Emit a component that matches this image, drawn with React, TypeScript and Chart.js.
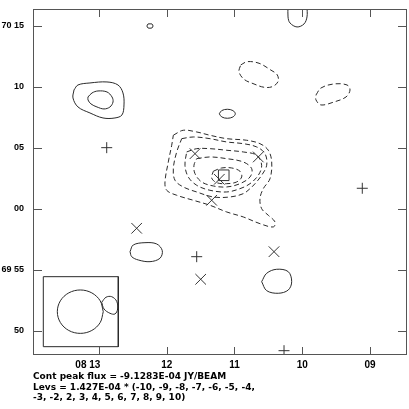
import React, { useEffect, useRef } from "react";
import { Chart, registerables } from "chart.js";

Chart.register(...registerables);

// Axis ticks (RA minutes of 08h, Dec arcmin relative to +70 00)
const raTicks = [13, 12, 11, 10, 9];
const raTickLabels = ["08 13\u2007\u2007\u2007\u2007", "12", "11", "10", "09"];
const decTicks = [15, 10, 5, 0, -5, -10];
const decTickLabels = ["70 15", "10", "05", "00", "69 55", "50"];
const raRange = [8.454, 13.974];
const decRange = [-11.97, 16.39];

// Positive (solid) contours
const posNW1 = [[13.369,9.754],[13.310,10.164],[13.133,10.328],[12.882,10.410],[12.720,10.164],[12.646,9.508],[12.631,8.525],[12.661,7.705],[12.764,7.459],[12.941,7.459],[13.133,7.869],[13.310,8.361],[13.384,9.098]];
const posNW2 = [[13.162,9.180],[13.103,9.508],[13.015,9.672],[12.882,9.590],[12.808,9.180],[12.793,8.770],[12.838,8.361],[12.926,8.197],[13.030,8.361],[13.118,8.607],[13.162,8.934]];
const posTiny = [[12.277,15.164],[12.218,15.164],[12.203,15.0],[12.218,14.836],[12.277,14.836],[12.292,15.0]];
const posTop = [[10.210,16.6],[10.210,15.738],[10.181,15.246],[10.077,14.918],[9.974,15.164],[9.930,15.738],[9.930,16.6]];
const posMid = [[11.224,7.803],[11.189,8.064],[11.106,8.172],[11.023,8.064],[10.988,7.803],[11.023,7.542],[11.106,7.434],[11.189,7.542]];
const posSW = [[12.542,-3.501],[12.494,-2.951],[12.321,-2.763],[12.148,-2.869],[12.066,-3.419],[12.100,-4.042],[12.247,-4.320],[12.420,-4.181],[12.517,-3.911]];
const posSE = [[10.599,-5.960],[10.525,-5.271],[10.377,-4.943],[10.206,-5.140],[10.156,-5.960],[10.206,-6.640],[10.354,-6.911],[10.525,-6.697]];

// Negative (dashed) contours
const negN = [[10.908,11.803],[10.811,12.074],[10.638,11.943],[10.466,11.393],[10.368,10.984],[10.358,10.434],[10.442,10.024],[10.565,9.975],[10.712,10.246],[10.860,10.631],[10.934,11.254]];
const negE = [[9.797,9.344],[9.723,9.918],[9.531,10.246],[9.339,10.164],[9.295,9.754],[9.354,9.180],[9.531,8.770],[9.723,8.525],[9.797,8.934]];
const negC1 = [[11.903,6.041],[11.756,6.451],[11.558,6.311],[11.362,6.041],[11.115,5.762],[10.820,5.631],[10.624,5.352],[10.501,4.811],[10.451,3.852],[10.476,2.483],[10.575,1.664],[10.624,0.844],[10.599,0.024],[10.501,-0.517],[10.402,-1.066],[10.427,-1.476],[10.624,-1.205],[10.870,-0.656],[11.115,-0.246],[11.362,0.303],[11.608,0.713],[11.853,1.123],[12.001,1.532],[12.026,2.213],[11.977,3.852],[11.927,5.221]];
const negC2 = [[11.779,5.762],[11.608,5.901],[11.362,5.762],[11.115,5.491],[10.870,5.352],[10.672,5.082],[10.550,4.532],[10.525,3.582],[10.599,2.762],[10.697,2.073],[10.771,1.664],[10.870,1.254],[11.066,0.983],[11.313,0.983],[11.558,1.393],[11.756,1.803],[11.878,2.352],[11.903,3.303],[11.853,4.672]];
const negC3 = [[11.706,4.672],[11.558,4.942],[11.362,4.942],[11.115,4.811],[10.870,4.672],[10.672,4.401],[10.599,3.582],[10.649,2.762],[10.771,2.073],[10.919,1.664],[11.115,1.393],[11.362,1.532],[11.558,1.942],[11.682,2.623],[11.731,3.582]];
const negC4 = [[11.558,4.123],[11.362,4.262],[11.115,4.123],[10.870,3.852],[10.746,3.303],[10.771,2.623],[10.919,2.073],[11.115,1.803],[11.313,1.885],[11.484,2.213],[11.583,2.893],[11.598,3.582]];
const negC5 = [[11.313,3.090],[11.189,3.360],[11.041,3.360],[10.919,3.090],[10.894,2.623],[10.968,2.213],[11.115,2.073],[11.263,2.155],[11.337,2.541]];

// Beam inset
const beamBox = [[13.822,-5.550],[12.715,-5.550],[12.715,-11.288],[13.822,-11.288]];
const beamMain = [[12.937,-8.419],[12.982,-7.529],[13.106,-6.878],[13.276,-6.640],[13.446,-6.878],[13.570,-7.529],[13.615,-8.419],[13.570,-9.308],[13.446,-9.960],[13.276,-10.197],[13.106,-9.960],[12.982,-9.308]];
const beamSmall = [[12.960,-7.648],[12.897,-7.238],[12.813,-7.189],[12.739,-7.566],[12.725,-8.198],[12.764,-8.607],[12.838,-8.550],[12.926,-8.198]];

// Markers
const plusMarkers = [[12.886,5.024],[9.114,1.696],[11.558,-3.911],[10.269,-11.616]];
const xMarkers = [[11.583,4.532],[10.649,4.262],[11.224,2.434],[11.337,0.713],[12.444,-1.583],[11.499,-5.763],[10.417,-3.501]];
const boxMarkers = [[11.159,2.762]];

const footerLines = [
  "Cont peak flux = -9.1283E-04 JY/BEAM",
  "Levs = 1.427E-04 * (-10, -9, -8, -7, -6, -5, -4,",
  "-3, -2, 2, 3, 4, 5, 6, 7, 8, 9, 10)",
];

const LINE = "#2a2a2a";
const AXIS = "#555";

const pts = (a: number[][]) => a.map(([x, y]) => ({ x, y }));
const closed = (a: number[][]) => a.concat([a[0]]);

function contour(a: number[][], dashed: boolean, isClosed = true, tension = 0.35) {
  return {
    type: "line" as const,
    data: pts(isClosed ? closed(a) : a),
    borderColor: LINE,
    borderWidth: 1,
    borderDash: dashed ? [5, 3] : [],
    pointRadius: 0,
    pointHoverRadius: 0,
    tension,
    fill: false,
  };
}

function markers(a: number[][], style: string, r: number) {
  return {
    type: "scatter" as const,
    data: pts(a),
    pointStyle: style,
    pointRadius: r,
    pointHoverRadius: r,
    borderColor: "#333",
    backgroundColor: "rgba(0,0,0,0)",
    borderWidth: 1,
    showLine: false,
  };
}

const framePlugin = {
  id: "frameTicks",
  afterDatasetsDraw(chart: any) {
    const { ctx, chartArea, scales } = chart;
    const { left, right, top, bottom } = chartArea;
    ctx.save();
    ctx.strokeStyle = AXIS;
    ctx.lineWidth = 1;
    ctx.strokeRect(left + 0.5, top + 0.5, right - left - 1, bottom - top - 1);
    ctx.beginPath();
    raTicks.forEach((v) => {
      const px = Math.round(scales.x.getPixelForValue(v)) + 0.5;
      ctx.moveTo(px, bottom);
      ctx.lineTo(px, bottom - 8);
      ctx.moveTo(px, top);
      ctx.lineTo(px, top + 8);
    });
    decTicks.forEach((v) => {
      const py = Math.round(scales.y.getPixelForValue(v)) + 0.5;
      ctx.moveTo(left, py);
      ctx.lineTo(left + 9, py);
      ctx.moveTo(right, py);
      ctx.lineTo(right - 9, py);
    });
    ctx.stroke();
    ctx.restore();
  },
};

export default function App() {
  const ref = useRef<HTMLCanvasElement | null>(null);

  useEffect(() => {
    if (!ref.current) return;
    const datasets: any[] = [
      contour(posNW1, false),
      contour(posNW2, false),
      contour(posTiny, false, true, 0.3),
      contour(posTop, false, false, 0.35),
      contour(posMid, false),
      contour(posSW, false),
      contour(posSE, false),
      contour(negN, true),
      contour(negE, true),
      contour(negC1, true),
      contour(negC2, true),
      contour(negC3, true),
      contour(negC4, true),
      contour(negC5, true),
      contour(beamBox, false, true, 0),
      contour(beamMain, false),
      contour(beamSmall, false),
      markers(plusMarkers, "cross", 5.5),
      markers(xMarkers, "crossRot", 7.5),
      markers(boxMarkers, "rect", 7.5),
    ];
    const chart = new Chart(ref.current, {
      type: "scatter",
      data: { datasets },
      plugins: [framePlugin],
      options: {
        animation: false,
        responsive: false,
        maintainAspectRatio: false,
        events: [],
        layout: { autoPadding: false, padding: { left: 0, right: 2, top: 9, bottom: 34 } },
        plugins: { legend: { display: false }, tooltip: { enabled: false }, title: { display: false } },
        scales: {
          x: {
            type: "linear",
            reverse: true,
            min: raRange[0],
            max: raRange[1],
            grid: { display: false, drawTicks: false },
            border: { display: false },
            afterBuildTicks: (s: any) => {
              s.ticks = raTicks.map((v) => ({ value: v }));
            },
            afterFit: (s: any) => {
              s.height = 20;
              s.paddingLeft = 0;
              s.paddingRight = 0;
            },
            ticks: {
              autoSkip: false,
              maxRotation: 0,
              padding: 4,
              color: "#000",
              font: { family: "'Liberation Sans', Arial, sans-serif", size: 10, weight: "bold" },
              callback: (v: any) => {
                const i = raTicks.indexOf(Number(v));
                return i >= 0 ? raTickLabels[i] : "";
              },
            },
          },
          y: {
            type: "linear",
            min: decRange[0],
            max: decRange[1],
            grid: { display: false, drawTicks: false },
            border: { display: false },
            afterBuildTicks: (s: any) => {
              s.ticks = decTicks.map((v) => ({ value: v }));
            },
            afterFit: (s: any) => {
              s.width = 33;
              s.paddingTop = 0;
              s.paddingBottom = 0;
            },
            ticks: {
              autoSkip: false,
              padding: 9,
              color: "#000",
              font: { family: "'Liberation Sans', Arial, sans-serif", size: 9, weight: "bold" },
              callback: (v: any) => {
                const i = decTicks.indexOf(Number(v));
                return i >= 0 ? decTickLabels[i] : "";
              },
            },
          },
        },
      },
    });
    return () => chart.destroy();
  }, []);

  return (
    <div style={{ position: "fixed", left: 0, top: 0, width: 409, height: 409, background: "#fff" }}>
      <canvas ref={ref} width={409} height={409} style={{ width: 409, height: 409, display: "block" }} />
      <div
        style={{
          position: "absolute",
          left: 33,
          top: 371,
          fontFamily: "'DejaVu Sans', sans-serif",
          fontWeight: "bold",
          fontSize: 9,
          lineHeight: "10.5px",
          color: "#000",
          whiteSpace: "pre",
        }}
      >
        {footerLines.map((t, i) => (
          <div key={i}>{t}</div>
        ))}
      </div>
    </div>
  );
}
